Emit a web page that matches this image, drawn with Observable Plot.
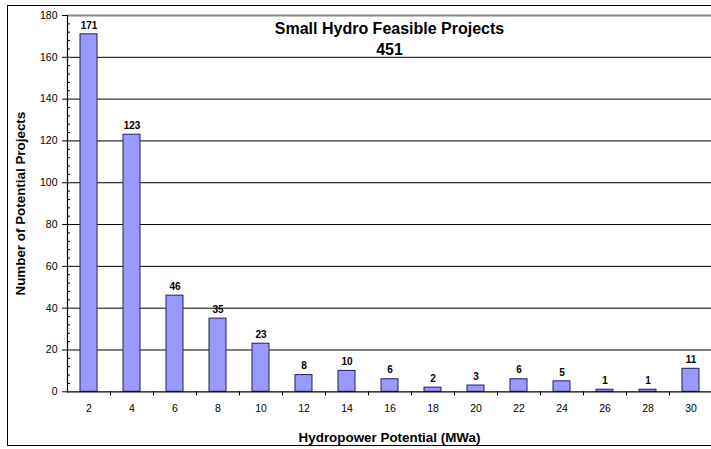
<!DOCTYPE html>
<html>
<head>
<meta charset="utf-8">
<script src="https://cdn.jsdelivr.net/npm/d3@7"></script>
<script src="https://cdn.jsdelivr.net/npm/@observablehq/plot@0.6"></script>
<style>
  html, body { margin: 0; padding: 0; background: #fff; overflow: hidden; }
  #wrap { position: relative; width: 711px; height: 449px; overflow: hidden; }
  #border { position: absolute; left: 7px; top: 5px; width: 720px; height: 441px; border: 1.5px solid #000; box-sizing: border-box; pointer-events: none; }
  #chart { position: absolute; left: 0; top: 0; }
</style>
</head>
<body>
<div id="wrap"><div id="chart"></div><div id="border"></div></div>
<script>
const categories = [2, 4, 6, 8, 10, 12, 14, 16, 18, 20, 22, 24, 26, 28, 30];
const counts = [171, 123, 46, 35, 23, 8, 10, 6, 2, 3, 6, 5, 1, 1, 11];
const yTicks = [0, 20, 40, 60, 80, 100, 120, 140, 160, 180];
const yMinorTicks = d3.range(0, 181, 4).filter(v => v % 20 !== 0);
const titleLine1 = "Small Hydro Feasible Projects";
const titleLine2 = "451";
const xLabel = "Hydropower Potential (MWa)";
const yLabel = "Number of Potential Projects";

const data = categories.map((c, i) => ({cat: c, value: counts[i]}));
const font = "Arial, 'Liberation Sans', sans-serif";

const chart = Plot.plot({
  width: 711,
  height: 449,
  marginTop: 15,
  marginBottom: 57.7,
  marginLeft: 67,
  marginRight: 0,
  style: {fontFamily: font, background: "transparent", color: "#000"},
  x: {type: "band", domain: categories, range: [67, 713], paddingInner: 0.6, paddingOuter: 0.3},
  y: {domain: [0, 180], range: [391.3, 15]},
  marks: [
    Plot.ruleY(yTicks.filter(v => v > 0 && v < 180), {stroke: "#000", strokeWidth: 1}),
    Plot.ruleY([180], {stroke: "#888", strokeWidth: 2}),
    Plot.barY(data, {x: "cat", y: "value", fill: "#9999FF", stroke: "#22224a", strokeWidth: 1}),
    Plot.ruleY([0], {stroke: "#000", strokeWidth: 1.2}),
    Plot.frame({anchor: "left", stroke: "#000", strokeWidth: 1.2}),
    Plot.axisY({ticks: yTicks, tickSize: 5, tickPadding: 5, fontSize: 10.5, label: null, stroke: "#000"}),
    Plot.axisY({ticks: yMinorTicks, tickSize: -3, text: null, label: null, stroke: "#000"}),
    Plot.axisX({ticks: categories.slice(0, -1), tickSize: 4, text: null, label: null, dx: 21.5, stroke: "#000"}),
    Plot.axisX({ticks: categories, tickSize: 0, tickPadding: 12.3, fontSize: 10.5, label: null}),
    Plot.text(data, {x: "cat", y: "value", text: d => String(d.value), dy: -9, fontSize: 10, fontWeight: "bold", fill: "#000"}),
    Plot.text([titleLine1], {frameAnchor: "top", lineAnchor: "middle", textAnchor: "middle", dy: 13.6, fontSize: 16, fontWeight: "bold", fill: "#000"}),
    Plot.text([titleLine2], {frameAnchor: "top", lineAnchor: "middle", textAnchor: "middle", dy: 34.6, fontSize: 16, fontWeight: "bold", fill: "#000"}),
    Plot.text([xLabel], {frameAnchor: "bottom", lineAnchor: "middle", textAnchor: "middle", dy: 45.9, fontSize: 13.4, fontWeight: "bold", fill: "#000"}),
    Plot.text([yLabel], {frameAnchor: "left", lineAnchor: "middle", textAnchor: "middle", dx: -47, rotate: -90, fontSize: 13.4, fontWeight: "bold", fill: "#000"})
  ]
});
document.getElementById("chart").appendChild(chart);
</script>
</body>
</html>
